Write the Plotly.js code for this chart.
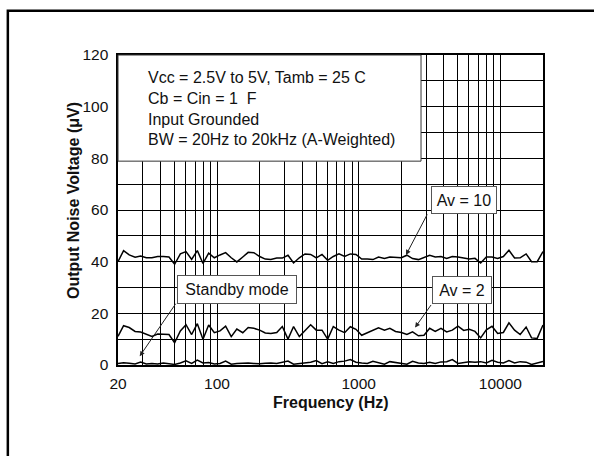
<!DOCTYPE html>
<html>
<head>
<meta charset="utf-8">
<script src="https://cdn.plot.ly/plotly-3.0.1.min.js"></script>
<style>html,body{margin:0;padding:0;background:#fff;}#chart{width:594px;height:456px;}</style>
</head>
<body>
<div id="chart"></div>
<script>
// Frequencies (Hz), log-spaced samples
const freq = [20, 21.9, 24.0, 26.4, 28.9, 31.7, 34.7, 38.1, 41.8, 45.8,
  50.2, 55.1, 60.4, 66.2, 72.6, 79.6, 87.3, 95.7, 105, 115,
  126, 138, 152, 166, 182, 200, 219, 240, 264, 289,
  317, 347, 381, 418, 458, 502, 551, 604, 662, 726,
  796, 873, 957, 1050, 1150, 1260, 1380, 1520, 1660, 1820,
  2000, 2190, 2400, 2640, 2890, 3170, 3470, 3810, 4180, 4580,
  5020, 5510, 6040, 6620, 7260, 7960, 8730, 9570, 10500, 11500,
  12600, 13800, 15200, 16600, 18200, 20000];

// Output noise voltage (uV), Av = 10
const av10 = [40.0, 44.3, 42.6, 41.7, 42.2, 41.5, 41.5, 42.0, 42.0, 41.8,
  39.0, 43.0, 43.9, 40.9, 44.3, 39.3, 43.3, 41.5, 42.6, 43.5,
  41.5, 39.9, 41.8, 43.6, 43.5, 42.0, 41.0, 40.8, 41.4, 41.4,
  42.5, 39.5, 41.5, 43.0, 42.8, 41.5, 42.8, 40.5, 42.0, 43.0,
  42.0, 43.0, 42.8, 41.0, 41.0, 40.8, 41.8, 41.2, 41.8, 41.6,
  41.5, 42.5, 41.2, 40.8, 41.5, 42.5, 41.8, 42.0, 41.2, 42.0,
  41.8, 41.4, 41.0, 41.3, 39.5, 41.8, 41.8, 41.2, 42.0, 44.4,
  41.4, 41.5, 43.0, 40.0, 40.0, 43.9];

// Av = 2
const av2 = [11.1, 15.2, 14.5, 13.0, 12.8, 11.8, 11.1, 12.0, 11.8, 11.8,
  8.6, 13.2, 15.6, 11.8, 16.0, 10.0, 15.5, 12.5, 13.2, 15.0,
  11.0, 13.9, 12.5, 14.5, 14.2, 13.5, 12.4, 12.2, 12.6, 14.9,
  10.0, 14.9, 11.0, 13.5, 15.6, 13.5, 13.5, 10.0, 14.9, 13.5,
  12.5, 14.8, 13.8, 11.5, 12.4, 13.2, 14.4, 13.5, 14.2, 13.0,
  12.6, 11.8, 12.8, 11.3, 11.5, 14.2, 13.0, 14.2, 12.8, 13.5,
  15.0, 13.4, 13.8, 13.0, 10.5, 13.6, 15.0, 12.2, 12.6, 16.3,
  13.5, 11.8, 14.7, 10.5, 10.3, 15.5];

// Standby mode
const standby = [0.6, 0.9, 0.7, 0.4, 1.1, 0.4, 0.6, 0.4, 0.8, 0.4,
  0.2, 0.8, 1.6, 0.6, 1.9, 0.8, 1.0, 0.4, 0.6, 1.5,
  0.3, 0.6, 0.7, 0.8, 0.6, 0.5, 0.7, 0.8, 0.6, 1.0,
  1.5, 0.3, 0.6, 0.9, 1.1, 1.7, 0.5, 1.2, 0.6, 1.3,
  1.5, 2.1, 1.1, 0.8, 0.6, 1.4, 0.8, 0.3, 1.3, 0.9,
  0.6, 0.3, 1.4, 0.8, 0.6, 1.1, 0.6, 1.2, 1.3, 2.1,
  0.6, 1.1, 1.3, 1.1, 1.3, 0.8, 1.8, 1.1, 0.8, 1.7,
  0.8, 1.3, 1.1, 0.2, 0.8, 1.4];

// Axis ticks and grid
const xTickVals = [20, 100, 1000, 10000];
const xTickText = ['20', '100', '1000', '10000'];
const xGridVals = [30, 40, 50, 60, 70, 80, 90, 200, 300, 400, 500, 600, 700, 800, 900,
  2000, 3000, 4000, 5000, 6000, 7000, 8000, 9000, 20000];
const yTickVals = [0, 20, 40, 60, 80, 100, 120];
const yGridVals = [10, 30, 50, 70, 90, 110];

const xTitle = 'Frequency (Hz)';
const yTitle = 'Output Noise Voltage (\u03bcV)';
const conditions = ['Vcc = 2.5V to 5V, Tamb = 25 C', 'Cb = Cin = 1\u00A0 F', 'Input Grounded', 'BW = 20Hz to 20kHz (A-Weighted)'];
const labels = {av10: 'Av = 10', av2: 'Av = 2', standby: 'Standby mode'};

const FONT = '"Liberation Sans", Arial, Helvetica, sans-serif';
const lineStyle = {color: '#000', width: 1.5};

const traces = [
  {x: freq, y: av10, type: 'scatter', mode: 'lines', line: lineStyle, name: labels.av10, hoverinfo: 'skip'},
  {x: freq, y: av2, type: 'scatter', mode: 'lines', line: lineStyle, name: labels.av2, hoverinfo: 'skip'},
  {x: freq, y: standby, type: 'scatter', mode: 'lines', line: lineStyle, name: labels.standby, hoverinfo: 'skip'}
];

const L = Math.log10;
const boxFont = {family: FONT, size: 16, color: '#111'};
const titleFont = {family: FONT, size: 16, color: '#111', weight: 'bold'};

const layout = {
  width: 594, height: 456,
  margin: {l: 118.3, r: 51.3, t: 54.5, b: 90.5, pad: 0},
  paper_bgcolor: '#fff', plot_bgcolor: '#fff',
  showlegend: false,
  font: {family: FONT, size: 15.5, color: '#111'},
  xaxis: {
    type: 'log', range: [L(20), L(20000)],
    tickmode: 'array', tickvals: xTickVals, ticktext: xTickText,
    showgrid: true, gridcolor: '#000', gridwidth: 1,
    minor: {tickmode: 'array', tickvals: xGridVals, showgrid: true, gridcolor: '#000', gridwidth: 1, ticks: ''},
    ticks: '', ticklabelstandoff: 4,
    showline: true, mirror: true, linecolor: '#000', linewidth: 1.6,
    zeroline: false,
    tickfont: {family: FONT, size: 15.5, color: '#111'}
  },
  yaxis: {
    range: [0, 120],
    tickmode: 'array', tickvals: yTickVals,
    showgrid: true, gridcolor: '#000', gridwidth: 1,
    minor: {tickmode: 'array', tickvals: yGridVals, showgrid: true, gridcolor: '#000', gridwidth: 1, ticks: ''},
    ticks: '', ticklabelstandoff: 5,
    showline: true, mirror: true, linecolor: '#000', linewidth: 1.6,
    zeroline: false,
    tickfont: {family: FONT, size: 15.5, color: '#111'}
  },
  shapes: [
    // outer frame
    {type: 'rect', xref: 'paper', yref: 'paper', x0: -0.2592, x1: 1.3, y0: -0.5, y1: 1.1431,
     line: {color: '#000', width: 2.5}, fillcolor: 'rgba(0,0,0,0)', layer: 'below'},
    // conditions box
    {type: 'rect', xref: 'paper', yref: 'paper', x0: 0, x1: 0.713, y0: 0.6576, y1: 1,
     line: {color: '#333', width: 1}, fillcolor: '#fff', layer: 'above'}
  ],
  annotations: [
    // axis titles
    {xref: 'paper', yref: 'paper', x: 0.5, y: -0.121, xanchor: 'center', yanchor: 'middle',
     showarrow: false, text: xTitle, font: titleFont},
    {xref: 'paper', yref: 'paper', x: -0.103, y: 0.5296, xanchor: 'center', yanchor: 'middle',
     showarrow: false, text: yTitle, textangle: -90, font: titleFont},
    // conditions text
    {xref: 'paper', yref: 'paper', x: 0.0653, y: 0.962, xanchor: 'left', yanchor: 'top', align: 'left',
     showarrow: false, text: conditions.join('<br>'), font: boxFont},
    // label boxes
    {x: 3.744, y: 63.85, text: labels.av10, showarrow: false, font: boxFont, bgcolor: '#fff',
     bordercolor: '#555', borderwidth: 1, borderpad: 0, width: 64, height: 26},
    {x: 3.728, y: 29.1, text: labels.av2, showarrow: false, font: boxFont, bgcolor: '#fff',
     bordercolor: '#555', borderwidth: 1, borderpad: 0, width: 58, height: 26},
    {x: 2.138, y: 29.3, text: labels.standby, showarrow: false, font: boxFont, bgcolor: '#fff',
     bordercolor: '#555', borderwidth: 1, borderpad: 0, width: 118, height: 27},
    // arrows
    {x: 3.334, y: 42.6, text: '', showarrow: true, ax: 22, ay: -42, arrowhead: 2, arrowsize: 1, arrowwidth: 1, arrowcolor: '#222', standoff: 0},
    {x: 3.398, y: 14.5, text: '', showarrow: true, ax: 17, ay: -24, arrowhead: 2, arrowsize: 1, arrowwidth: 1, arrowcolor: '#222', standoff: 0},
    {x: 1.4544, y: 3.4, text: '', showarrow: true, ax: 37, ay: -54, arrowhead: 2, arrowsize: 1, arrowwidth: 1, arrowcolor: '#222', standoff: 0}
  ]
};

Plotly.newPlot('chart', traces, layout, {staticPlot: true, displayModeBar: false});
</script>
</body>
</html>
